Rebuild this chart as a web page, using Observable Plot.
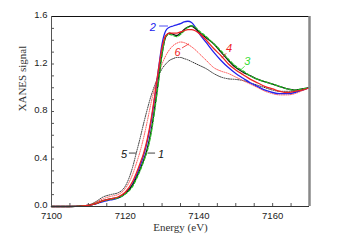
<!DOCTYPE html>
<html><head><meta charset="utf-8">
<script src="https://cdn.jsdelivr.net/npm/d3@7"></script>
<script src="https://cdn.jsdelivr.net/npm/@observablehq/plot@0.6"></script>
<style>body{margin:0;background:#fff}</style>
</head><body><div id="chart"></div>
<script>
const energy = [7100,7105,7108,7110,7112,7114,7116,7118,7120,7122,7123,7124,7125,7126,7127,7128,7129,7130,7131,7132,7133,7134,7135,7136,7137,7138,7139,7140,7142,7144,7146,7148,7150,7152,7154,7156,7158,7160,7162,7164,7166,7168,7170];
const s1 = [0,0,0.004,0.01,0.025,0.05,0.065,0.075,0.11,0.18,0.24,0.31,0.39,0.49,0.63,0.83,1.06,1.29,1.43,1.46,1.45,1.44,1.46,1.49,1.51,1.52,1.50,1.47,1.42,1.37,1.30,1.23,1.17,1.13,1.10,1.07,1.05,1.03,1.01,0.99,0.98,0.99,1.0];
const s2 = [0,0,0.004,0.01,0.022,0.042,0.055,0.07,0.11,0.19,0.26,0.34,0.43,0.55,0.71,0.92,1.15,1.37,1.48,1.51,1.52,1.53,1.54,1.555,1.56,1.55,1.51,1.46,1.38,1.30,1.23,1.17,1.12,1.08,1.04,1.01,0.98,0.96,0.95,0.95,0.96,0.98,1.0];
const s3 = [0,0,0.004,0.01,0.025,0.048,0.062,0.072,0.105,0.17,0.23,0.30,0.38,0.47,0.61,0.81,1.04,1.28,1.43,1.45,1.44,1.43,1.45,1.48,1.51,1.52,1.51,1.48,1.43,1.37,1.31,1.24,1.18,1.14,1.10,1.07,1.05,1.03,1.01,0.99,0.98,0.99,1.0];
const s4 = [0,0,0.004,0.01,0.025,0.05,0.065,0.08,0.12,0.21,0.28,0.36,0.45,0.57,0.73,0.93,1.15,1.34,1.44,1.46,1.46,1.46,1.47,1.48,1.49,1.49,1.48,1.46,1.40,1.33,1.27,1.20,1.15,1.11,1.07,1.04,1.01,0.99,0.97,0.96,0.97,0.98,1.0];
const s5 = [0,0,0.005,0.012,0.04,0.08,0.10,0.115,0.17,0.33,0.45,0.57,0.70,0.82,0.93,1.02,1.10,1.16,1.20,1.23,1.245,1.255,1.255,1.245,1.235,1.22,1.205,1.19,1.16,1.12,1.09,1.075,1.07,1.06,1.04,1.02,1.0,0.98,0.97,0.97,0.97,0.985,1.0];
const s6 = [0,0,0.005,0.012,0.035,0.065,0.085,0.10,0.15,0.27,0.36,0.46,0.58,0.72,0.87,1.0,1.11,1.20,1.27,1.32,1.355,1.375,1.385,1.38,1.365,1.345,1.32,1.29,1.23,1.17,1.14,1.12,1.09,1.06,1.03,1.0,0.97,0.95,0.94,0.94,0.95,0.975,1.0];

const xTicks = [7100,7120,7140,7160];
const yTicks = [0,0.4,0.8,1.2,1.6];
const xMinor = d3.range(7100,7171,5);
const yMinor = d3.range(0,1.61,0.1);

// curve labels: text position and leader line (data units)
const labelText = ["1","2","3","4","5","6"];
const labelX    = [7129.7,7127.5,7153.1,7148.2,7119.7,7134.2];
const labelY    = [0.44,1.505,1.22,1.33,0.44,1.30];
const leadX1    = [7128.1,7129.2,7152.4,7147.4,7121.0,7135.4];
const leadY1    = [0.45,1.52,1.18,1.29,0.45,1.335];
const leadX2    = [7126.1,7131.6,7151.3,7146.2,7122.9,7137.3];
const leadY2    = [0.45,1.52,1.15,1.25,0.45,1.37];
const labelColor = ["#111","#2222ee","#33dd33","#ee2222","#111","#ee2222"];

const pts = s => energy.map((e,i)=>({e, v:s[i]}));
const labels = labelText.map((t,i)=>({t, x:labelX[i], y:labelY[i], x1:leadX1[i], y1:leadY1[i], x2:leadX2[i], y2:leadY2[i], c:labelColor[i]}));

const lineOpts = {x:"e", y:"v", curve:"monotone-x"};
const chart = Plot.plot({
  width:338, height:245,
  marginLeft:51, marginRight:29, marginTop:16, marginBottom:39,
  style:{fontFamily:"Liberation Sans, Arial, sans-serif", fontSize:"9.5px", color:"#222", background:"#fff"},
  x:{domain:[7100,7170]},
  y:{domain:[0,1.6]},
  marks:[
    Plot.axisX({ticks:xMinor, tickSize:-3, text:null, stroke:"#555"}),
    Plot.axisX({ticks:xTicks, tickSize:0, tickPadding:6, tickFormat:d3.format("d"), fill:"#222"}),
    Plot.axisY({ticks:yMinor, tickSize:-3, text:null, stroke:"#555"}),
    Plot.axisY({ticks:yTicks, tickSize:0, tickPadding:4, dy:-1.5, tickFormat:d3.format(".1f"), fill:"#222", label:null}),
    Plot.line(pts(s5), {...lineOpts, stroke:"#333", strokeWidth:1, strokeDasharray:"1,1.3"}),
    Plot.line(pts(s6), {...lineOpts, stroke:"#ff5555", strokeWidth:1, strokeDasharray:"1,1.3"}),
    Plot.line(pts(s2), {...lineOpts, stroke:"#2222ee", strokeWidth:1.3}),
    Plot.line(pts(s1), {...lineOpts, stroke:"#111", strokeWidth:1.3}),
    Plot.line(pts(s3), {...lineOpts, stroke:"#22bb22", strokeWidth:1.3, strokeDasharray:"3,2"}),
    Plot.line(pts(s4), {...lineOpts, stroke:"#ee2222", strokeWidth:1.3}),
    Plot.link(labels, {x1:"x1", y1:"y1", x2:"x2", y2:"y2", stroke:"c", strokeWidth:0.8}),
    Plot.text(labels, {x:"x", y:"y", text:"t", fill:"c", fontSize:11, fontStyle:"italic"}),
    Plot.ruleY([1.6], {stroke:"#111", strokeWidth:1}),
    Plot.ruleY([0], {stroke:"#333", strokeWidth:1}),
    Plot.ruleX([7100], {stroke:"#555", strokeWidth:1}),
    Plot.ruleX([7170], {stroke:"#888", strokeWidth:2.5}),
    Plot.text(["XANES signal"], {frameAnchor:"left", dx:-29, rotate:-90, fontFamily:"Liberation Serif, Times New Roman, serif", fontSize:11, fill:"#333"}),
    Plot.text(["Energy (eV)"], {frameAnchor:"bottom", dy:24, fontFamily:"Liberation Serif, Times New Roman, serif", fontSize:11, fill:"#333"})
  ]
});
document.getElementById("chart").appendChild(chart);
</script>
</body></html>
